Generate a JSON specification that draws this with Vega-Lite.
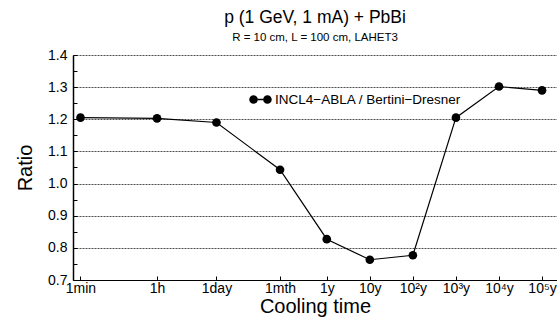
{
  "$schema": "https://vega.github.io/schema/vega-lite/v6.json",
  "width": 484,
  "height": 225,
  "autosize": {"type": "none"},
  "padding": {"left": 73, "top": 55, "right": 0, "bottom": 40},
  "background": "white",
  "config": {"view": {"stroke": null}, "font": "Liberation Sans"},
  "title": {
    "text": "p (1 GeV, 1 mA) + PbBi",
    "subtitle": "R = 10 cm, L = 100 cm, LAHET3",
    "font": "Liberation Sans",
    "subtitleFont": "Liberation Sans",
    "fontSize": 17.5,
    "fontWeight": "normal",
    "subtitleFontSize": 11.5,
    "color": "black",
    "subtitleColor": "black",
    "subtitlePadding": 5,
    "offset": 5,
    "anchor": "middle"
  },
  "data": {
    "values": [
      {"minutes": 1, "ratio": 1.205, "series": "INCL4−ABLA / Bertini−Dresner"},
      {"minutes": 60, "ratio": 1.203, "series": "INCL4−ABLA / Bertini−Dresner"},
      {"minutes": 1440, "ratio": 1.19, "series": "INCL4−ABLA / Bertini−Dresner"},
      {"minutes": 43200, "ratio": 1.043, "series": "INCL4−ABLA / Bertini−Dresner"},
      {"minutes": 525600, "ratio": 0.827, "series": "INCL4−ABLA / Bertini−Dresner"},
      {"minutes": 5256000, "ratio": 0.763, "series": "INCL4−ABLA / Bertini−Dresner"},
      {"minutes": 52560000, "ratio": 0.777, "series": "INCL4−ABLA / Bertini−Dresner"},
      {"minutes": 525600000, "ratio": 1.205, "series": "INCL4−ABLA / Bertini−Dresner"},
      {"minutes": 5256000000, "ratio": 1.302, "series": "INCL4−ABLA / Bertini−Dresner"},
      {"minutes": 52560000000, "ratio": 1.29, "series": "INCL4−ABLA / Bertini−Dresner"}
    ]
  },
  "encoding": {
    "x": {
      "field": "minutes",
      "type": "quantitative",
      "scale": {"type": "log", "domain": [0.67, 1.17e11]},
      "axis": {
        "orient": "bottom",
        "values": [1, 60, 1440, 43200, 525600, 5256000, 52560000, 525600000, 5256000000, 52560000000],
        "labelExpr": "datum.value < 2 ? '1min' : datum.value < 100 ? '1h' : datum.value < 2000 ? '1day' : datum.value < 50000 ? '1mth' : datum.value < 600000 ? '1y' : datum.value < 6000000 ? '10y' : datum.value < 60000000 ? '10²y' : datum.value < 600000000 ? '10³y' : datum.value < 6000000000 ? '10⁴y' : '10⁵y'",
        "grid": false,
        "domainColor": "black",
        "domainWidth": 1,
        "tickColor": "black",
        "tickSize": -4,
        "tickWidth": 1,
        "labelFont": "Liberation Sans",
        "labelFontSize": 14,
        "labelColor": "black",
        "labelPadding": 5,
        "labelFlush": false,
        "labelOverlap": false,
        "title": "Cooling time",
        "titleFont": "Liberation Sans",
        "titleFontSize": 20,
        "titleFontWeight": "normal",
        "titleColor": "black",
        "titlePadding": 1
      }
    },
    "y": {
      "field": "ratio",
      "type": "quantitative",
      "scale": {"domain": [0.7, 1.4], "nice": false, "zero": false},
      "axis": {
        "values": [0.7, 0.75, 0.8, 0.85, 0.9, 0.95, 1.0, 1.05, 1.1, 1.15, 1.2, 1.25, 1.3, 1.35, 1.4],
        "labelExpr": "abs(datum.value*10 - round(datum.value*10)) < 0.001 ? format(datum.value, '.1f') : ''",
        "grid": true,
        "gridColor": "black",
        "gridDash": [2, 1],
        "gridWidth": 0.7,
        "gridOpacity": {"condition": {"test": "abs(datum.value*10 - round(datum.value*10)) < 0.001", "value": 1}, "value": 0},
        "domainColor": "black",
        "domainWidth": 1.5,
        "tickColor": "black",
        "tickSize": -4,
        "tickWidth": 1,
        "labelFont": "Liberation Sans",
        "labelFontSize": 14,
        "labelColor": "black",
        "labelPadding": 10,
        "labelFlush": false,
        "labelOverlap": false,
        "title": "Ratio",
        "titleFont": "Liberation Sans",
        "titleFontSize": 20,
        "titleFontWeight": "normal",
        "titleColor": "black",
        "titlePadding": 12
      }
    }
  },
  "layer": [
    {
      "mark": {"type": "line", "color": "black", "strokeWidth": 1.2}
    },
    {
      "mark": {"type": "point", "filled": true, "size": 75, "opacity": 1, "shape": "circle"},
      "encoding": {
        "color": {
          "field": "series",
          "type": "nominal",
          "scale": {"range": ["black"]},
          "legend": {
            "title": null,
            "orient": "none",
            "legendX": 178,
            "legendY": 35,
            "symbolType": "M -0.3 -0.08 L 0.3 -0.08 L 0.3 0.08 L -0.3 0.08 Z M -1.3 0 a 0.5 0.5 0 1 0 1 0 a 0.5 0.5 0 1 0 -1 0 Z M 0.3 0 a 0.5 0.5 0 1 0 1 0 a 0.5 0.5 0 1 0 -1 0 Z",
            "symbolSize": 300,
            "labelFont": "Liberation Sans",
            "labelFontSize": 13.5,
            "labelLimit": 400,
            "labelColor": "black",
            "labelOffset": 5,
            "encode": {"symbols": {"update": {"fill": {"value": "black"}, "fillOpacity": {"value": 1}, "stroke": {"value": "black"}, "strokeWidth": {"value": 0.5}, "opacity": {"value": 1}}}}
          }
        }
      }
    }
  ]
}
